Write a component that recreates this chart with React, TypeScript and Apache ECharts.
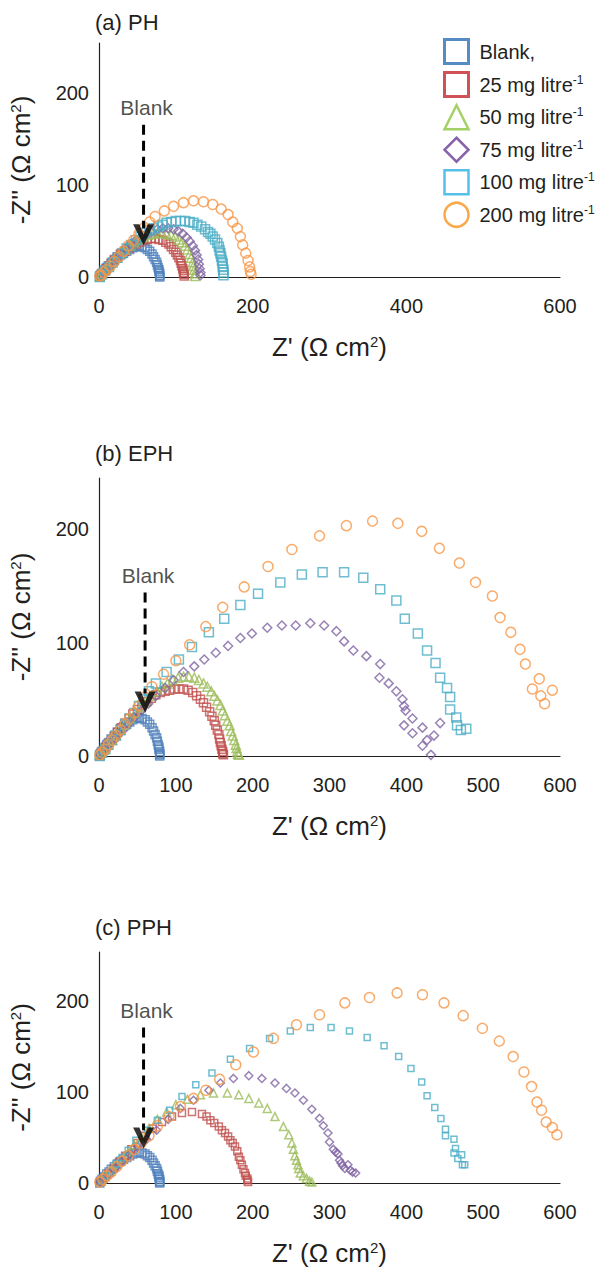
import React, { useEffect, useRef } from 'react';
import * as echarts from 'echarts';

const FONT = '"Liberation Sans", Arial, Helvetica, sans-serif';
const INK = '#231f20';

const SERIES_NAMES = ['Blank,', '25 mg litre-1', '50 mg litre-1', '75 mg litre-1', '100 mg litre-1', '200 mg litre-1'];
const PANEL_TITLES = ['(a) PH', '(b) EPH', '(c) PPH'];
const X_TICK_STEP = [200, 100, 100];
const Y_TICK_STEP = 100;
const Y_MAX = [255, 245, 254];

// Blank (same curve in all three panels)
const BLANK = [[1,0],[2,2],[4,4],[7,7],[10,10],[13,12],[16,15],[20,18],[24,21],[28,24],[32,26],[36,28],[40,30],[44,32],[48,33],[52,34],[56,33],[60,32],[63,30],[66,28],[69,25],[71,22],[73,19],[75,16],[76,13],[77,10],[78,8],[78,6],[79,4],[79,2],[79,1],[79,0]];

// (a) PH
const PH_25 = [[1,1],[3,3],[6,6],[9,9],[12,12],[16,15],[20,19],[24,22],[28,25],[33,28],[38,31],[43,34],[48,36],[53,38],[58,40],[63,41],[68,42],[73,42],[78,41],[83,40],[87,38],[91,36],[94,33],[97,30],[100,27],[102,24],[104,21],[106,18],[107,15],[108,12],[109,9],[110,7],[110,5],[111,3],[111,1]];
const PH_50 = [[1,1],[4,4],[8,8],[12,12],[17,16],[22,21],[28,26],[34,30],[40,34],[46,38],[52,41],[58,44],[64,46],[70,47],[76,48],[82,48],[88,47],[94,46],[99,44],[104,41],[108,38],[112,34],[115,30],[118,25],[120,21],[122,16],[123,12],[124,8],[125,4],[125,1]];
const PH_75 = [[1,1],[5,5],[10,10],[15,15],[21,20],[27,25],[34,31],[41,36],[48,40],[55,44],[62,47],[69,50],[76,52],[83,53],[90,53],[97,52],[103,50],[109,47],[114,43],[118,39],[122,34],[125,29],[127,24],[129,19],[130,14],[131,9],[132,5],[132,2]];
const PH_100 = [[1,0],[4,3],[8,7],[13,11],[18,16],[24,21],[30,26],[36,31],[42,35],[48,40],[54,44],[60,48],[66,51],[71,53],[77,55],[83,57],[88,59],[94,60],[100,61],[106,61],[112,61],[118,60],[123,59],[128,57],[133,55],[138,52],[142,49],[145,47],[148,44],[151,41],[154,37],[156,33],[157,29],[158,26],[159,22],[160,18],[161,15],[161,11],[162,8],[162,5],[162,2]];
const PH_200 = [[1,1],[3,2],[6,5],[10,8],[15,12],[20,17],[26,22],[32,28],[38,34],[45,40],[52,47],[59,54],[66,60],[73,66],[85,72],[97,77],[110,81],[123,83],[136,82],[148,79],[159,74],[168,68],[174,60],[180,53],[184,44],[187,35],[191,26],[194,18],[196,11],[197,6],[198,3]];

// (b) EPH
const EPH_25 = [[1,1],[3,3],[6,5],[9,8],[12,11],[16,14],[20,17],[24,21],[29,25],[34,29],[39,33],[44,37],[50,41],[56,45],[62,48],[68,51],[74,54],[80,56],[86,57],[92,58],[98,59],[104,59],[110,59],[116,58],[122,56],[127,53],[132,50],[136,47],[140,43],[144,39],[147,35],[150,31],[152,27],[154,23],[156,19],[157,15],[158,12],[159,9],[160,6],[161,4],[161,2],[162,1]];
const EPH_50 = [[1,1],[4,3],[8,7],[12,10],[17,14],[22,18],[28,23],[34,28],[40,33],[47,38],[54,43],[61,48],[68,53],[75,57],[82,61],[89,64],[96,67],[103,69],[110,70],[117,70],[124,69],[130,67],[136,64],[141,61],[146,57],[150,53],[154,49],[158,45],[161,40],[164,36],[167,31],[170,27],[172,22],[174,18],[176,14],[178,10],[179,7],[180,4],[181,2],[182,1]];
const EPH_75 = [[2,1],[8,6],[15,11],[22,16],[30,22],[38,28],[46,34],[55,40],[64,46],[74,53],[86,60],[97,67],[110,74],[124,79],[137,85],[152,91],[168,97],[184,104],[199,108],[219,113],[238,115],[256,115],[275,117],[293,115],[309,110],[319,101],[331,93],[348,88],[366,81],[365,69],[377,64],[387,57],[395,50],[397,44],[399,40],[397,27],[408,33],[408,20],[421,25],[444,29],[436,18],[427,14],[421,9],[432,1]];
const EPH_100 = [[1,0],[4,3],[8,6],[12,10],[17,14],[22,18],[28,23],[34,28],[40,33],[46,38],[52,44],[58,50],[65,57],[74,64],[88,74],[104,85],[121,96],[143,109],[163,121],[184,133],[207,143],[236,153],[264,160],[291,162],[319,162],[344,157],[366,147],[387,137],[398,121],[415,108],[427,93],[438,82],[444,69],[453,60],[457,52],[457,41],[465,34],[466,27],[471,23],[478,24]];
const EPH_200 = [[1,1],[4,3],[8,6],[12,10],[17,14],[22,18],[28,23],[34,28],[40,33],[46,38],[52,44],[60,52],[69,61],[84,72],[100,84],[118,98],[139,114],[161,131],[189,149],[220,167],[251,182],[287,194],[322,203],[356,207],[389,205],[420,198],[443,183],[469,170],[490,153],[512,141],[522,122],[536,109],[548,94],[555,81],[564,59],[573,68],[575,53],[580,46],[590,58]];

// (c) PPH
const PPH_25 = [[2,1],[6,5],[12,10],[19,16],[26,23],[34,30],[42,37],[50,44],[60,52],[70,60],[82,67],[95,73],[108,77],[121,78],[134,76],[140,73],[145,69],[150,66],[156,62],[160,58],[164,55],[168,51],[171,47],[174,44],[177,40],[180,35],[182,29],[184,25],[186,20],[188,15],[190,11],[191,8],[193,5],[193,3],[194,1]];
const PPH_50 = [[3,2],[8,7],[15,13],[22,20],[30,27],[38,34],[46,42],[55,50],[65,60],[76,70],[88,78],[100,86],[115,92],[132,97],[149,99],[167,99],[182,97],[195,93],[208,88],[219,82],[229,73],[240,62],[247,53],[251,44],[253,37],[255,30],[257,25],[259,20],[260,16],[262,11],[266,8],[270,5],[274,2],[277,1]];
const PPH_75 = [[2,1],[7,5],[14,11],[22,17],[30,24],[40,32],[50,40],[62,48],[75,58],[90,70],[106,82],[123,91],[143,102],[158,110],[175,115],[195,118],[212,115],[229,110],[244,104],[255,99],[266,91],[277,81],[287,71],[292,63],[298,55],[300,45],[305,37],[308,34],[311,32],[313,25],[315,22],[317,19],[320,16],[324,20],[327,14],[330,12],[334,11]];
const PPH_100 = [[3,3],[8,8],[15,14],[22,21],[30,28],[38,36],[48,47],[63,58],[76,69],[92,80],[108,95],[126,108],[147,121],[171,136],[196,148],[222,159],[249,167],[275,171],[302,171],[326,167],[349,160],[371,151],[390,139],[406,126],[420,111],[427,96],[437,83],[445,71],[451,59],[451,52],[462,48],[464,38],[462,33],[467,27],[472,31],[473,20],[476,20]];
const PPH_200 = [[1,1],[5,4],[10,8],[16,12],[23,18],[30,24],[38,30],[46,37],[55,44],[65,52],[76,63],[91,73],[106,84],[123,93],[139,102],[157,114],[178,130],[201,144],[227,159],[257,174],[287,185],[320,198],[352,204],[388,209],[421,207],[449,198],[474,184],[499,170],[521,156],[539,139],[553,122],[563,106],[570,89],[576,80],[582,67],[590,61],[596,53]];

// "Blank" arrow annotation, in data units of each panel
const ARROW_X = [58, 60, 58];
const ARROW_TOP = [166, 144, 171];
const ARROW_DASH_END = [53, 55, 58];
const ARROW_HEAD_Y = [46, 47.5, 49.5];

const PANEL_DATA = [
  [BLANK, PH_25, PH_50, PH_75, PH_100, PH_200],
  [BLANK, EPH_25, EPH_50, EPH_75, EPH_100, EPH_200],
  [BLANK, PPH_25, PPH_50, PPH_75, PPH_100, PPH_200],
];

const COLORS = ['#4F81BD', '#C0504D', '#9BBB59', '#8064A2', '#4BACC6', '#F79646'];
const LEGEND_COLORS = ['#2c6fb5', '#c4262e', '#8dc63f', '#6a3c96', '#2ab0e4', '#f7941d'];
const SYMBOLS = ['rect', 'rect', 'triangle', 'diamond', 'rect', 'circle'];
const SIZES = [
  [8, 8, 9, 9, 9, 10],
  [8, 8, 9, 9, 9, 10],
  [8, 7, 8, 8, 6, 10],
];

const GRIDS = [
  { left: 97, top: 43, width: 463, height: 234 },
  { left: 97, top: 478, width: 463, height: 278 },
  { left: 98, top: 952, width: 462, height: 231 },
];
const TITLE_TOP = [11, 442, 916];

const CHEVRON = 'path://M0,0 L6,0 L10,10 L14,0 L20,0 L10,20 Z';

export default function App() {
  const ref = useRef<HTMLDivElement>(null);

  useEffect(() => {
    if (!ref.current) return;
    const chart = echarts.init(ref.current, undefined, { renderer: 'svg' });

    const nameRich = { sup: { fontSize: 15, fontFamily: FONT, color: INK, verticalAlign: 'top' } };

    const series: any[] = [];
    PANEL_DATA.forEach((panel, p) => {
      panel.forEach((data, s) => {
        series.push({
          type: 'scatter',
          name: SERIES_NAMES[s],
          xAxisIndex: p,
          yAxisIndex: p,
          data,
          symbol: SYMBOLS[s],
          symbolSize: SIZES[p][s],
          silent: true,
          itemStyle: { color: 'rgba(255,255,255,0)', borderColor: COLORS[s], borderWidth: 1.5 },
          z: 2,
        });
      });
      series.push({
        type: 'line',
        name: 'arrow',
        xAxisIndex: p,
        yAxisIndex: p,
        data: [[ARROW_X[p], ARROW_TOP[p]], [ARROW_X[p], ARROW_DASH_END[p]]],
        symbol: 'none',
        silent: true,
        lineStyle: { color: '#000', width: 3, type: [10, 6] },
        z: 5,
      });
      series.push({
        type: 'scatter',
        name: 'arrowhead',
        xAxisIndex: p,
        yAxisIndex: p,
        data: [[ARROW_X[p], ARROW_HEAD_Y[p]]],
        symbol: CHEVRON,
        symbolSize: [21, 21],
        silent: true,
        itemStyle: { color: '#000' },
        z: 6,
      });
      series.push({
        type: 'scatter',
        name: 'blanklabel',
        xAxisIndex: p,
        yAxisIndex: p,
        data: [[ARROW_X[p], ARROW_TOP[p]]],
        symbolSize: 1,
        silent: true,
        itemStyle: { color: 'rgba(0,0,0,0)' },
        label: {
          show: true,
          formatter: 'Blank',
          position: 'top',
          distance: 6,
          offset: [3, 0],
          fontSize: 21,
          fontFamily: FONT,
          color: INK,
        },
        z: 6,
      });
    });

    const option: any = {
      animation: false,
      backgroundColor: '#ffffff',
      title: PANEL_TITLES.map((t, i) => ({
        text: t,
        left: 95,
        top: TITLE_TOP[i],
        padding: 0,
        textStyle: { fontSize: 22, fontWeight: 'normal', color: INK, fontFamily: FONT },
      })),
      grid: GRIDS.map((g) => ({ ...g, containLabel: false })),
      xAxis: GRIDS.map((_, i) => ({
        gridIndex: i,
        type: 'value',
        min: 0,
        max: 600,
        interval: X_TICK_STEP[i],
        axisLine: { show: true, onZero: false, lineStyle: { color: INK, width: 1.2 } },
        axisTick: { show: false },
        splitLine: { show: false },
        axisLabel: { fontSize: 20, color: INK, fontFamily: FONT, margin: 19 },
        name: "Z' (Ω cm{sup|2})",
        nameLocation: 'middle',
        nameGap: 57,
        nameTextStyle: { fontSize: 26, color: INK, fontFamily: FONT, rich: nameRich },
      })),
      yAxis: GRIDS.map((_, i) => ({
        gridIndex: i,
        type: 'value',
        min: 0,
        max: Y_MAX[i],
        interval: Y_TICK_STEP,
        axisLine: { show: true, onZero: false, lineStyle: { color: INK, width: 1.2 } },
        axisTick: { show: false },
        splitLine: { show: false },
        axisLabel: { fontSize: 20, color: INK, fontFamily: FONT, margin: 10, showMaxLabel: false },
        name: "-Z'' (Ω cm{sup|2})",
        nameLocation: 'middle',
        nameRotate: 90,
        nameGap: 65,
        nameTextStyle: { fontSize: 26, color: INK, fontFamily: FONT, rich: nameRich },
      })),
      legend: {
        orient: 'vertical',
        left: 443,
        top: 38,
        padding: 0,
        itemWidth: 24,
        itemHeight: 24,
        itemGap: 6,
        selectedMode: false,
        data: SERIES_NAMES.map((n, i) => ({
          name: n,
          icon: SYMBOLS[i],
          itemStyle: { color: 'rgba(255,255,255,0)', borderColor: LEGEND_COLORS[i], borderWidth: i < 2 ? 3 : 2.5 },
        })),
        formatter: (name: string) => {
          const m = name.match(/^(.*)-1$/);
          return m ? `{t|${m[1]}}{sup|-1}` : `{t|${name}}`;
        },
        textStyle: {
          fontSize: 20,
          color: INK,
          fontFamily: FONT,
          lineHeight: 22,
          rich: {
            t: { fontSize: 20, lineHeight: 22, color: INK, fontFamily: FONT, padding: [0, 0, 0, 6] },
            sup: { fontSize: 12, lineHeight: 14, color: INK, fontFamily: FONT, verticalAlign: 'top' },
          },
        },
      },
      series,
    };

    chart.setOption(option);
    return () => chart.dispose();
  }, []);

  return (
    <div
      ref={ref}
      style={{ position: 'absolute', left: 0, top: 0, width: 602, height: 1273, background: '#fff' }}
    />
  );
}
